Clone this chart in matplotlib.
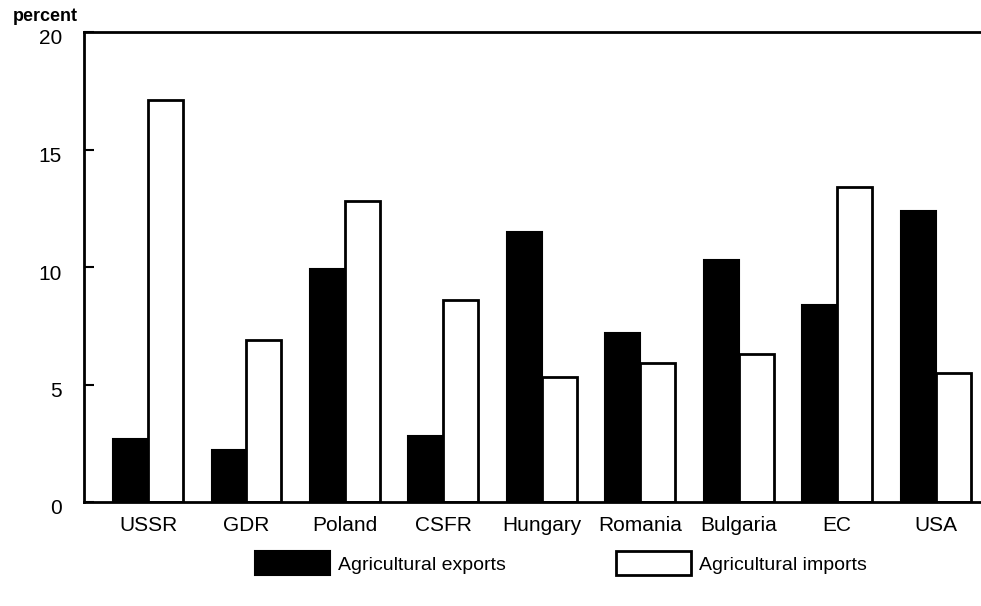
import matplotlib
matplotlib.use("Agg")
import matplotlib.pyplot as plt
import matplotlib.transforms as mtransforms
from matplotlib.patches import Patch
import numpy as np

categories = ["USSR", "GDR", "Poland", "CSFR", "Hungary", "Romania", "Bulgaria", "EC", "USA"]
exports = [2.7, 2.2, 9.9, 2.8, 11.5, 7.2, 10.3, 8.4, 12.4]
imports = [17.1, 6.9, 12.8, 8.6, 5.3, 5.9, 6.3, 13.4, 5.5]
yticks = [0, 5, 10, 15, 20]

plt.rcParams['font.family'] = ['Liberation Sans', 'DejaVu Sans']

fig = plt.figure(figsize=(9.81, 6.06), dpi=100)
ax = fig.add_axes([84/981, 104/606, 1 - 84/981, (503-33)/606])

x = np.arange(len(categories))
w = 0.355
ax.bar(x - w/2, exports, width=w, color='black', edgecolor='black', linewidth=1.5,
       label='Agricultural exports')
ax.bar(x + w/2, imports, width=w, color='white', edgecolor='black', linewidth=2,
       label='Agricultural imports')

ax.set_xlim(-0.65, 8.46)
ax.set_ylim(0, 20)
ax.set_yticks(yticks)
ax.set_yticklabels([str(v) for v in yticks])
ax.set_xticks(x)
ax.set_xticklabels(categories)

for s in ['left', 'bottom', 'top']:
    ax.spines[s].set_linewidth(2)
ax.spines['right'].set_visible(False)

ax.tick_params(axis='y', direction='in', length=7, width=1.5, pad=16, labelsize=15)
ax.tick_params(axis='x', length=0, pad=10, labelsize=15)
off = mtransforms.ScaledTranslation(0, -5/100, fig.dpi_scale_trans)
for lab in ax.get_yticklabels():
    lab.set_transform(lab.get_transform() + off)

fig.text(13/981, 1 - 21/606, "percent", fontsize=13, fontweight='bold', ha='left', va='baseline')

handles = [Patch(facecolor='black', edgecolor='black', linewidth=1.5, label='Agricultural exports'),
           Patch(facecolor='white', edgecolor='black', linewidth=2, label='Agricultural imports')]
fs = 14
em = fs * 100 / 72
leg = fig.legend(handles=handles, loc='upper left',
                 bbox_to_anchor=(255/981, 1 - 551/606), ncol=2,
                 frameon=False, fontsize=fs, handlelength=75/em, handleheight=30/em,
                 columnspacing=110/em, handletextpad=8/em, borderpad=0, borderaxespad=0)

fig.savefig("out.png", dpi=100)
